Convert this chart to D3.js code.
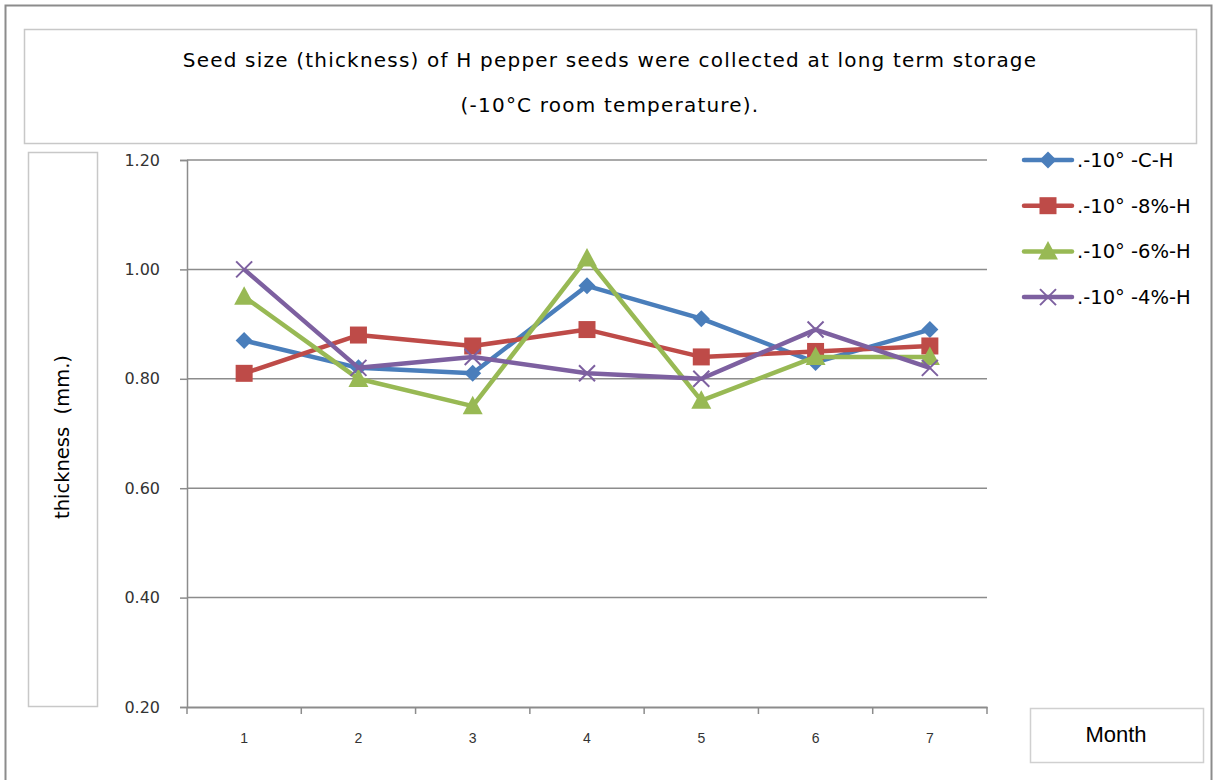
<!DOCTYPE html>
<html><head><meta charset="utf-8">
<script src="https://cdn.jsdelivr.net/npm/d3@7"></script>
<style>body{margin:0;background:#fff;}svg{display:block;}</style>
</head><body>
<svg id="c" width="1216" height="780"></svg>
<script>
const months = ["1","2","3","4","5","6","7"];
const seriesNames = [".-10° -C-H", ".-10° -8%-H", ".-10° -6%-H", ".-10° -4%-H"];
const valsC  = [0.87, 0.82, 0.81, 0.97, 0.91, 0.83, 0.89];
const vals8  = [0.81, 0.88, 0.86, 0.89, 0.84, 0.85, 0.86];
const vals6  = [0.95, 0.80, 0.75, 1.02, 0.76, 0.84, 0.84];
const vals4  = [1.00, 0.82, 0.84, 0.81, 0.80, 0.89, 0.82];
const yTicks = [0.20, 0.40, 0.60, 0.80, 1.00, 1.20];
const titleLines = ["Seed size (thickness) of H pepper seeds were collected at long term storage", "(-10°C room temperature)."];

const colors = ["#4a7ebb", "#be4b48", "#98b954", "#7d60a0"];
const shapes = ["diamond", "square", "triangle", "cross"];
const series = [valsC, vals8, vals6, vals4].map((v, i) => ({name: seriesNames[i], values: v, color: colors[i], shape: shapes[i]}));

const svg = d3.select("#c");
const font = "'DejaVu Sans', 'Noto Sans', sans-serif";

// outer border
svg.append("rect").attr("x", 5.5).attr("y", 5.5).attr("width", 1206).attr("height", 790)
  .attr("fill", "none").attr("stroke", "#8c8c8c").attr("stroke-width", 2);

// title box
svg.append("rect").attr("x", 24.5).attr("y", 29.5).attr("width", 1172).attr("height", 114)
  .attr("fill", "#fff").attr("stroke", "#c8c8c8").attr("stroke-width", 1.5);
svg.selectAll("text.title").data(titleLines).enter().append("text")
  .attr("x", 610).attr("y", (d, i) => 67 + i * 45).attr("text-anchor", "middle")
  .style("font-family", font).style("font-size", "20px").style("letter-spacing", "1.2px").attr("fill", "#000").text(d => d);

// y label box
svg.append("rect").attr("x", 28.5).attr("y", 152.5).attr("width", 69).attr("height", 554)
  .attr("fill", "#fff").attr("stroke", "#c8c8c8").attr("stroke-width", 1.5);
svg.append("text").attr("transform", "translate(69,437) rotate(-90)").attr("text-anchor", "middle")
  .style("font-family", font).style("font-size", "19.5px").style("white-space", "pre").attr("fill", "#000").text("thickness  (mm.)");

// Month box
svg.append("rect").attr("x", 1030.5).attr("y", 708.5).attr("width", 173).attr("height", 54)
  .attr("fill", "#fff").attr("stroke", "#d0d0d0").attr("stroke-width", 1.5);
svg.append("text").attr("x", 1116).attr("y", 742).attr("text-anchor", "middle")
  .style("font-family", "'Liberation Sans', Arial, sans-serif").style("font-size", "22px").attr("fill", "#000").text("Month");

const L = 187, R = 987, T = 160, B = 707;
const x = d3.scaleBand().domain(months).range([L, R]);
const y = d3.scaleLinear().domain([0.2, 1.2]).range([B, T]);

// gridlines
svg.append("g").selectAll("line").data(yTicks.filter(t => t > 0.2)).enter().append("line")
  .attr("x1", L).attr("x2", R).attr("y1", d => y(d)).attr("y2", d => y(d))
  .attr("stroke", "#8c8c8c").attr("stroke-width", 1.5);

// y axis
const yAxis = svg.append("g").attr("transform", `translate(${L},0)`)
  .call(d3.axisLeft(y).tickValues(yTicks).tickFormat(d3.format(".2f")).tickSize(7).tickPadding(20));
yAxis.select(".domain").attr("stroke", "#8c8c8c").attr("stroke-width", 1.5);
yAxis.selectAll(".tick line").attr("stroke", "#8c8c8c").attr("stroke-width", 1.5);
yAxis.selectAll("text").style("font-family", font).style("font-size", "16px").attr("fill", "#333");

// x axis
const xAxis = svg.append("g").attr("transform", `translate(0,${B})`)
  .call(d3.axisBottom(x).tickSize(0).tickPadding(26));
xAxis.select(".domain").attr("stroke", "#8c8c8c").attr("stroke-width", 2);
xAxis.selectAll("text").style("font-family", "'Liberation Sans', Arial, sans-serif").style("font-size", "14px").attr("fill", "#333");
const bounds = months.map(m => x(m)).concat([R]);
svg.append("g").selectAll("line").data(bounds).enter().append("line")
  .attr("x1", d => d).attr("x2", d => d).attr("y1", B).attr("y2", B + 7)
  .attr("stroke", "#8c8c8c").attr("stroke-width", 1.5);

const cx = m => x(m) + x.bandwidth() / 2;

function drawMarker(g, shape, color, px, py, s) {
  if (shape === "diamond") {
    g.append("path").attr("d", `M${px},${py - s}L${px + s},${py}L${px},${py + s}L${px - s},${py}Z`).attr("fill", color);
  } else if (shape === "square") {
    g.append("rect").attr("x", px - s).attr("y", py - s).attr("width", 2 * s).attr("height", 2 * s).attr("fill", color);
  } else if (shape === "triangle") {
    g.append("path").attr("d", `M${px},${py - s * 1.1}L${px + s * 1.05},${py + s * 0.85}L${px - s * 1.05},${py + s * 0.85}Z`).attr("fill", color);
  } else {
    g.append("path").attr("d", `M${px - s},${py - s}L${px + s},${py + s}M${px - s},${py + s}L${px + s},${py - s}`)
      .attr("stroke", color).attr("stroke-width", 2).attr("fill", "none");
  }
}
const sizes = {diamond: 8.5, square: 8.5, triangle: 9.5, cross: 8};

const line = d3.line().x((d, i) => cx(months[i])).y(d => y(d));
series.forEach(s => {
  const g = svg.append("g");
  g.append("path").datum(s.values).attr("d", line).attr("fill", "none")
    .attr("stroke", s.color).attr("stroke-width", 4.5).attr("stroke-linejoin", "round");
  s.values.forEach((v, i) => drawMarker(g, s.shape, s.color, cx(months[i]), y(v), sizes[s.shape]));
});

// legend
const leg = svg.append("g");
series.forEach((s, i) => {
  const ly = 160 + i * 45.7;
  leg.append("line").attr("x1", 1024).attr("x2", 1072).attr("y1", ly).attr("y2", ly)
    .attr("stroke", s.color).attr("stroke-width", 4.5).attr("stroke-linecap", "round");
  drawMarker(leg, s.shape, s.color, 1048, ly, sizes[s.shape]);
  leg.append("text").attr("x", 1077).attr("y", ly + 7)
    .style("font-family", font).style("font-size", "19.5px").attr("fill", "#000").text(s.name);
});
</script>
</body></html>
